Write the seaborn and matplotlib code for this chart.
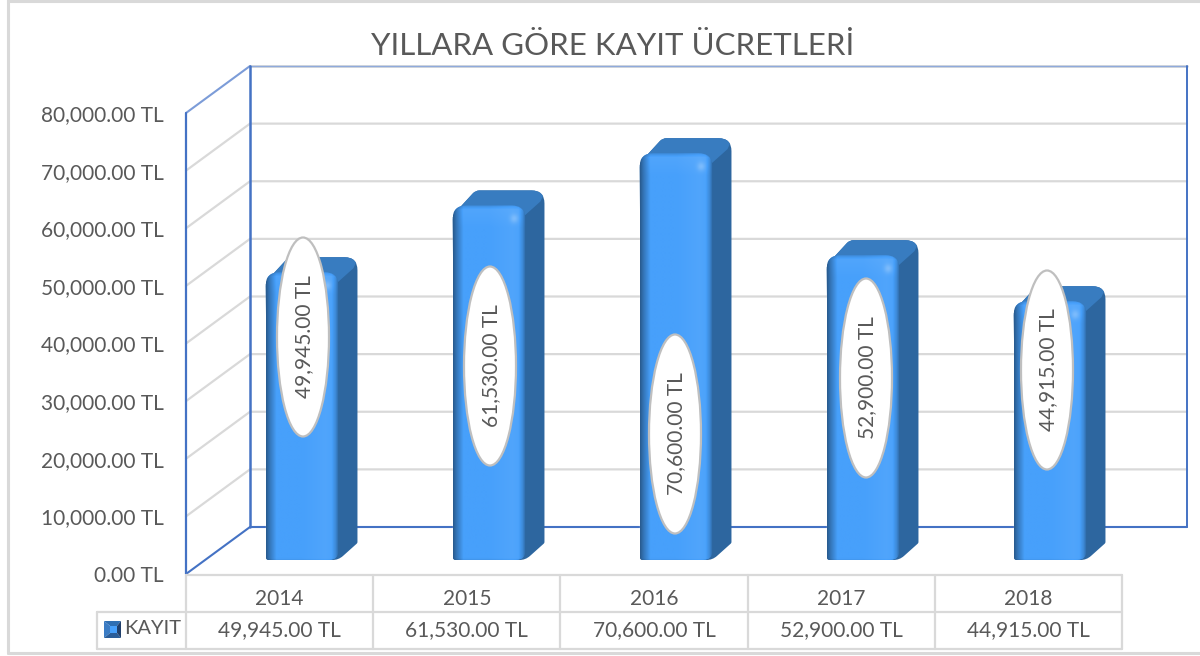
import numpy as np
import pandas as pd
import matplotlib
matplotlib.use('Agg')
import matplotlib.pyplot as plt
from matplotlib.patches import Ellipse, PathPatch, Polygon
from matplotlib.path import Path
from matplotlib.ticker import FuncFormatter
import seaborn as sns

TITLE = 'YILLARA GÖRE KAYIT ÜCRETLERİ'
SERIES_NAME = 'KAYIT'
YEARS = ['2014', '2015', '2016', '2017', '2018']
VALUES = [49945, 61530, 70600, 52900, 44915]
Y_TICKS = [0, 10000, 20000, 30000, 40000, 50000, 60000, 70000, 80000]

# label bubbles were dragged by hand in the original (pixel centres)
BUBBLE_CENTERS = [(303, 337), (490, 366), (675, 434), (866, 378), (1047, 370)]

W, H = 1200, 656
TEXT = '#595959'
GRID = '#d9d9d9'
BLUE = '#4472c4'

sns.set_theme(style='white')
plt.rcParams['font.family'] = ['Lato', 'DejaVu Sans']


def fmt_tl(v, pos=None):
    return f'{v:,.2f} TL'


def pixel_axes(fig, zorder):
    a = fig.add_axes([0, 0, 1, 1], zorder=zorder)
    a.set_xlim(0, W)
    a.set_ylim(H, 0)
    a.axis('off')
    a.patch.set_alpha(0)
    return a


def box(x0, y0, x1, y1):
    # axes position from pixel corners (y down)
    return [x0 / W, 1 - y1 / H, (x1 - x0) / W, (y1 - y0) / H]


def rounded(points):
    # points: (x, y, radius) closed outline, rounded at each corner
    verts, codes = [], []
    n = len(points)
    for i in range(n):
        p = np.array(points[i][:2], float)
        r = points[i][2]
        a = np.array(points[i - 1][:2], float)
        b = np.array(points[(i + 1) % n][:2], float)
        pa = p + (a - p) / np.linalg.norm(a - p) * r
        pb = p + (b - p) / np.linalg.norm(b - p) * r
        verts.append(pa)
        codes.append(Path.MOVETO if i == 0 else Path.LINETO)
        verts += [p, pb]
        codes += [Path.CURVE3, Path.CURVE3]
    verts.append(verts[0])
    codes.append(Path.CLOSEPOLY)
    return Path(verts, codes)


def front_image(w, h):
    # shading of the bevelled front face
    stops_x = [0, 0.04, 0.14, 0.5, 0.82, 0.9, 0.96, 1]
    shade_x = [-0.42, -0.28, 0.0, 0.0, 0.05, 0.03, -0.14, -0.34]
    x = np.linspace(0, 1, int(w))
    y = np.arange(int(h))
    sx = np.interp(x, stops_x, shade_x)
    sy = np.interp(y, [0, 4, 12, 22], [-0.12, 0.05, 0.03, 0.0])
    shade = sx[None, :] + sy[:, None] * (1 - np.abs(sx[None, :]) * 2)
    # small specular spot, top right
    xx, yy = np.meshgrid(np.arange(int(w)), y)
    shade = shade + 0.22 * np.exp(-(((xx - (w - 13)) / 4.0) ** 2 + ((yy - 13) / 4.5) ** 2))
    # darker rim on the bottom edge
    shade = shade + np.interp(y, [h - 3, h], [0, -0.12])[:, None]
    base = np.array([0x47, 0xa0, 0xfb]) / 255.0
    img = np.where(shade[..., None] >= 0, base + (1 - base) * shade[..., None],
                   base * (1 + shade[..., None]))
    return np.clip(img, 0, 1)


fig = plt.figure(figsize=(W / 100, H / 100), dpi=100, facecolor='white')

# walls, grid, table frame
bg = pixel_axes(fig, 0)
bg.plot([8, 8, W + 5], [653, 1, 1], color=GRID, lw=2.2, solid_joinstyle='miter')
bg.plot([8, W + 5], [653, 653], color=GRID, lw=2.2)

y0_front, y_scale = 574, 461 / 80000
dx_wall, dy_wall = 64, 47
x_front, x_back, x_right = 186, 250, 1187
for v in Y_TICKS[1:-1]:
    yf = y0_front - v * y_scale
    bg.plot([x_front, x_back, x_right], [yf, yf - dy_wall, yf - dy_wall],
            color=GRID, lw=1.6, solid_joinstyle='round')
y_top = y0_front - 80000 * y_scale
bg.plot([x_back, x_right], [y_top - dy_wall] * 2, color=GRID, lw=2.0)
bg.plot([x_back, x_right], [y_top - dy_wall] * 2, color='#8faadc', lw=1.0)
bg.plot([x_front, x_back], [y_top, y_top - dy_wall], color='#7c9cd8', lw=1.5)
bg.plot([x_front, x_front], [y_top, y0_front], color=BLUE, lw=1.6)
bg.plot([x_back, x_back], [y_top - dy_wall, y0_front - dy_wall], color=BLUE, lw=1.8)
bg.plot([x_right, x_right], [y_top - dy_wall, y0_front - dy_wall], color=BLUE, lw=1.4)
bg.plot([x_front, x_back, x_right], [y0_front, y0_front - dy_wall, y0_front - dy_wall],
        color=BLUE, lw=1.5, solid_joinstyle='miter')

# data table frame
x_cells = np.linspace(x_front, 1122, len(YEARS) + 1)
row_a, row_b, row_c = 575, 612, 649
for xc in x_cells:
    bg.plot([xc, xc], [row_a, row_c], color=GRID, lw=1.6)
bg.plot([x_front, x_cells[-1]], [row_a, row_a], color=GRID, lw=1.6)
bg.plot([97, x_cells[-1]], [row_b, row_b], color=GRID, lw=1.6)
bg.plot([97, x_cells[-1]], [row_c, row_c], color=GRID, lw=1.6)
bg.plot([97, 97], [row_b, row_c], color=GRID, lw=1.6)

# value axis + year labels on the front plane
ax_wall = fig.add_axes(box(x_front, y_top, x_cells[-1], y0_front), zorder=1)
ax_wall.patch.set_alpha(0)
ax_wall.set_xlim(-0.5, len(YEARS) - 0.5)
ax_wall.set_ylim(0, 80000)
ax_wall.set_yticks(Y_TICKS)
ax_wall.yaxis.set_major_formatter(FuncFormatter(fmt_tl))
ax_wall.set_xticks(range(len(YEARS)))
ax_wall.set_xticklabels(YEARS)
ax_wall.tick_params(axis='y', length=0, pad=16, labelsize=15, labelcolor=TEXT)
ax_wall.tick_params(axis='x', length=0, pad=11, labelsize=15, labelcolor=TEXT)
sns.despine(ax=ax_wall, left=True, bottom=True)

# bars
df = pd.DataFrame({'year': YEARS, 'value': VALUES})
ax_bars = fig.add_axes(box(208.5, 560 - 80000 * 461 / 80000, 1143.5, 560), zorder=2)
sns.barplot(data=df, x='year', y='value', color='#47a0fb', width=0.39, saturation=1, ax=ax_bars)
ax_bars.set_ylim(0, 80000)
ax_bars.axis('off')

# bevel and depth drawn around the bars
ov = pixel_axes(fig, 3)
depth_x, depth_y = 19, 15
for bar in ax_bars.patches:
    (xa, ya), (xb, yb) = ax_bars.transData.transform(
        [(bar.get_x(), bar.get_height()), (bar.get_x() + bar.get_width(), 0)])
    x0, x1 = xa, xb
    top, bottom = H - ya, H - yb

    outline = rounded([(x0, top + 10, 4), (x0 + depth_x + 4, top - depth_y, 4),
                       (x1 + depth_x, top - depth_y, 13), (x1 + depth_x, bottom - 17, 1),
                       (x1, bottom, 6), (x0 + 4, bottom, 2)])
    sil = PathPatch(outline, fc='#2d669f', ec='none', zorder=2)
    ov.add_patch(sil)

    # top face
    tp = Polygon([(x0 - 2, top + 12), (x0 + depth_x + 2, top - depth_y - 2),
                  (x1 + depth_x + 2, top - depth_y - 2), (x1 + depth_x - 4, top - 4),
                  (x1 - 4, top + 13)], fc='#387cc0', ec='none', zorder=3)
    ov.add_patch(tp)
    tp.set_clip_path(sil)

    # front face
    face = rounded([(x0, top, 14), (x1, top, 14), (x1, bottom, 9), (x0, bottom, 3)])
    clip = PathPatch(face, fc='none', ec='none', transform=ov.transData)
    ov.add_patch(clip)
    im = ov.imshow(front_image(x1 - x0, bottom - top), extent=(x0, x1, bottom, top),
                   aspect='auto', zorder=4, interpolation='bilinear')
    im.set_clip_path(clip)
    bar.set_clip_path(face, ov.transData)

ov.set_xlim(0, W)
ov.set_ylim(H, 0)

# data labels
for (cx, cy), val in zip(BUBBLE_CENTERS, VALUES):
    ov.add_patch(Ellipse((cx, cy), 52, 199, fc='white', ec='#bfbfbf', lw=1.6, zorder=6))
    ov.text(cx + 1, cy, fmt_tl(val), rotation=90, ha='center', va='center',
            fontsize=15, color=TEXT, zorder=7)

# table values and series key
for i, val in enumerate(VALUES):
    ov.text((x_cells[i] + x_cells[i + 1]) / 2, 630, fmt_tl(val), ha='center', va='center',
            fontsize=15, color=TEXT)
ov.text(124, 628, SERIES_NAME, ha='left', va='center', fontsize=14.5, color=TEXT)

kx0, kx1, ky0, ky1 = 104, 121, 621, 638
mx0, mx1, my0, my1 = 110, 117, 626, 633
ov.add_patch(Polygon([(kx0, ky0), (kx1, ky0), (mx1, my0), (mx0, my0)], fc='#2f6fb3', ec='none'))
ov.add_patch(Polygon([(kx0, ky0), (mx0, my0), (mx0, my1), (kx0, ky1)], fc='#3b7cc4', ec='none'))
ov.add_patch(Polygon([(kx0, ky1), (mx0, my1), (mx1, my1), (kx1, ky1)], fc='#2a5d99', ec='none'))
ov.add_patch(Polygon([(kx1, ky0), (mx1, my0), (mx1, my1), (kx1, ky1)], fc='#203f6b', ec='none'))
ov.add_patch(Polygon([(mx0, my0), (mx1, my0), (mx1, my1), (mx0, my1)], fc='#47a0fb', ec='none'))

ov.text(613, 46, TITLE, ha='center', va='center', fontsize=22.5, color=TEXT)

plt.savefig('out.png', dpi=100)
plt.close()
